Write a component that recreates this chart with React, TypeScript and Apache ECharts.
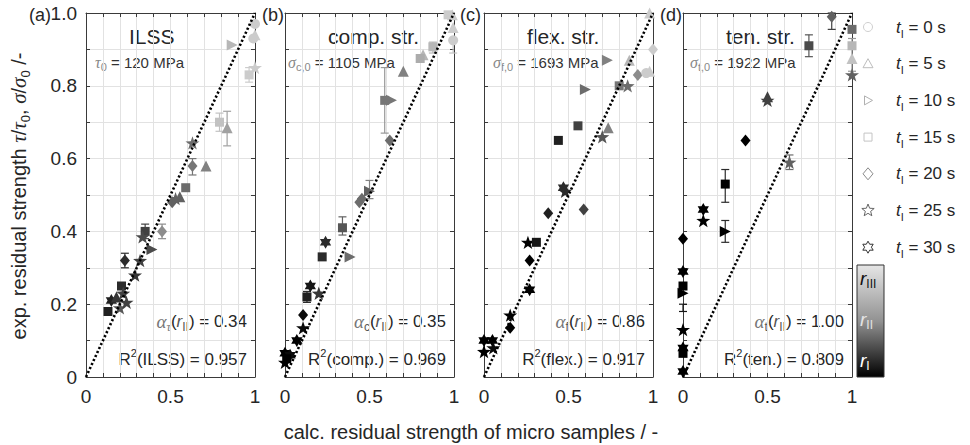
import React, { useEffect, useRef } from 'react';
import * as echarts from 'echarts';

// ---------- data ----------
const panelTitles = ['ILSS', 'comp. str.', 'flex. str.', 'ten. str.'];
const panelLabels = ['(a)', '(b)', '(c)', '(d)'];
const refSymbols = ['τ', 'σ', 'σ', 'σ'];
const refSubs = ['0', 'c,0', 'f,0', 't,0'];
const refValues = ['120 MPa', '1105 MPa', '1693 MPa', '1922 MPa'];
const alphaSubs = ['τ', 'c', 'f', 't'];
const alphaValues = ['0.34', '0.35', '0.86', '1.00'];
const r2Names = ['ILSS', 'comp.', 'flex.', 'ten.'];
const r2Values = ['0.957', '0.969', '0.917', '0.809'];
const legendTimes = ['0 s', '5 s', '10 s', '15 s', '20 s', '25 s', '30 s'];
const xTickValues = [0, 0.5, 1];
const xTickLabels = ['0', '0.5', '1'];
const yTickValues = [0, 0.2, 0.4, 0.6, 0.8, 1.0];
const yTickLabels = ['0', '0.2', '0.4', '0.6', '0.8', '1.0'];
const rLabels = ['III', 'II', 'I'];
const fitLine = [[0, 0], [1, 1]];

// points: [calc, exp, time index (0..6 -> 0..30 s), r level (0 = r_I black, 1 = r_III light)]
const ilssPoints = [
  [1.0, 0.97, 0, 0.95], [1.0, 0.94, 1, 0.95], [0.99, 0.93, 0, 0.95], [0.865, 0.912, 2, 0.85],
  [0.965, 0.83, 3, 0.95], [1.0, 0.85, 5, 0.95], [0.79, 0.70, 3, 0.9], [0.835, 0.685, 1, 0.75],
  [0.63, 0.643, 5, 0.5], [0.63, 0.58, 4, 0.55], [0.71, 0.58, 1, 0.6], [0.59, 0.52, 3, 0.5],
  [0.555, 0.495, 1, 0.45], [0.51, 0.48, 4, 0.45], [0.53, 0.49, 5, 0.45], [0.45, 0.40, 4, 0.65],
  [0.35, 0.40, 3, 0.3], [0.335, 0.385, 5, 0.35], [0.39, 0.35, 2, 0.35], [0.32, 0.32, 5, 0.3],
  [0.23, 0.32, 4, 0.2], [0.29, 0.28, 5, 0.25], [0.21, 0.25, 3, 0.2], [0.22, 0.23, 5, 0.3],
  [0.15, 0.21, 6, 0.15], [0.13, 0.18, 3, 0.15], [0.2, 0.19, 5, 0.4], [0.24, 0.205, 5, 0.3],
  [0.18, 0.22, 1, 0.25],
];
const compPoints = [
  [0.965, 0.995, 3, 0.95], [0.99, 0.995, 1, 0.95], [0.995, 0.96, 1, 0.95], [0.995, 0.925, 0, 0.95],
  [0.875, 0.907, 3, 0.85], [0.817, 0.885, 1, 0.85], [0.80, 0.875, 3, 0.8], [0.70, 0.84, 1, 0.6],
  [0.59, 0.76, 3, 0.55], [0.63, 0.76, 2, 0.55], [0.62, 0.65, 4, 0.5], [0.50, 0.51, 2, 0.45],
  [0.455, 0.49, 4, 0.5], [0.44, 0.48, 4, 0.5], [0.34, 0.41, 3, 0.4], [0.24, 0.37, 6, 0.2],
  [0.22, 0.33, 3, 0.2], [0.385, 0.33, 2, 0.5], [0.15, 0.25, 6, 0.1], [0.13, 0.22, 3, 0.15],
  [0.2, 0.23, 5, 0.25], [0.107, 0.17, 4, 0.05], [0.107, 0.135, 5, 0.05], [0.07, 0.10, 6, 0.0],
  [0.0, 0.065, 6, 0.0], [0.0, 0.04, 5, 0.0], [0.03, 0.06, 6, 0.05], [0.01, 0.05, 3, 0.0],
];
const flexPoints = [
  [0.98, 1.0, 1, 0.95], [1.0, 0.90, 4, 0.95], [0.73, 0.87, 2, 0.6], [0.86, 0.87, 1, 0.85],
  [0.91, 0.83, 4, 0.65], [0.98, 0.84, 1, 0.95], [0.96, 0.835, 0, 0.95], [0.80, 0.80, 3, 0.55],
  [0.85, 0.80, 5, 0.5], [0.60, 0.79, 2, 0.5], [0.556, 0.69, 3, 0.3], [0.44, 0.65, 3, 0.15],
  [0.735, 0.685, 1, 0.6], [0.70, 0.66, 5, 0.4], [0.48, 0.51, 5, 0.2], [0.47, 0.52, 6, 0.2],
  [0.38, 0.45, 4, 0.15], [0.59, 0.46, 4, 0.3], [0.26, 0.37, 5, 0.0], [0.31, 0.37, 3, 0.1],
  [0.27, 0.32, 4, 0.0], [0.27, 0.24, 6, 0.0], [0.155, 0.17, 5, 0.0], [0.155, 0.135, 4, 0.0],
  [0.0, 0.10, 6, 0.0], [0.05, 0.10, 6, 0.0], [0.0, 0.07, 5, 0.0], [0.055, 0.08, 5, 0.05],
];
const tenPoints = [
  [0.88, 0.99, 4, 0.45], [1.0, 0.955, 3, 0.5], [1.0, 0.91, 3, 0.85], [1.0, 0.875, 1, 0.9],
  [1.0, 0.83, 5, 0.45], [0.745, 0.91, 3, 0.35], [0.50, 0.77, 1, 0.3], [0.50, 0.76, 5, 0.3],
  [0.37, 0.65, 4, 0.0], [0.63, 0.59, 5, 0.45], [0.25, 0.53, 3, 0.0], [0.12, 0.46, 6, 0.0],
  [0.12, 0.43, 5, 0.0], [0.25, 0.40, 2, 0.0], [0.0, 0.38, 4, 0.0], [0.0, 0.29, 6, 0.0],
  [0.0, 0.25, 3, 0.0], [0.0, 0.23, 2, 0.0], [0.0, 0.13, 5, 0.0], [0.0, 0.08, 6, 0.0],
  [0.0, 0.065, 3, 0.0], [0.0, 0.015, 6, 0.0],
];

// error bars: [calc, low, high, r level]
const ilssErrors = [
  [0.965, 0.81, 0.85, 0.95], [0.79, 0.675, 0.725, 0.9], [0.835, 0.635, 0.73, 0.75],
  [0.63, 0.555, 0.60, 0.55], [0.45, 0.38, 0.42, 0.65], [0.23, 0.30, 0.34, 0.2], [0.35, 0.38, 0.42, 0.3],
];
const compErrors = [
  [0.59, 0.67, 0.85, 0.7], [0.875, 0.89, 0.92, 0.85], [0.995, 0.89, 0.93, 0.9],
  [0.50, 0.49, 0.54, 0.6], [0.34, 0.39, 0.44, 0.45], [0.13, 0.205, 0.235, 0.2],
];
const flexErrors: number[][] = [];
const tenErrors = [
  [0.88, 0.955, 1.0, 0.3], [0.745, 0.88, 0.94, 0.4], [0.63, 0.57, 0.61, 0.5],
  [0.25, 0.48, 0.57, 0.2], [0.25, 0.37, 0.43, 0.2], [0.0, 0.18, 0.20, 0.1], [1.0, 0.84, 0.93, 0.7],
];

const panelPoints = [ilssPoints, compPoints, flexPoints, tenPoints];
const panelErrors = [ilssErrors, compErrors, flexErrors, tenErrors];

// ---------- styling / layout ----------
const SANS = 'Arial, "Liberation Sans", Helvetica, sans-serif';
const SERIF = '"Times New Roman", "Liberation Serif", serif';
const TXT = '#262626';
const AX = '#3a3a3a';
const GRID_LEFTS = [86, 285, 484, 683];
const LABEL_RIGHTS = [51, 284, 481, 682];
const GT = 13;
const GW = 169;
const GH = 364;

const gray = (r: number) => {
  const g = Math.round(r * 215);
  return `rgb(${g},${g},${g})`;
};

function starPts(n: number, R: number, ri: number, cx: number, cy: number): number[][] {
  const pts: number[][] = [];
  for (let k = 0; k < 2 * n; k++) {
    const a = -Math.PI / 2 + (k * Math.PI) / n;
    const rad = k % 2 === 0 ? R : ri;
    pts.push([cx + rad * Math.cos(a), cy + rad * Math.sin(a)]);
  }
  return pts;
}
const toPath = (pts: number[][]) =>
  'path://' + pts.map((p, i) => (i === 0 ? 'M' : 'L') + p[0].toFixed(2) + ',' + p[1].toFixed(2)).join('') + 'Z';

const SYMBOLS = [
  'circle',
  'triangle',
  'path://M0,0L10,5L0,10Z',
  'rect',
  'diamond',
  toPath(starPts(5, 10, 4, 10, 10)),
  toPath(starPts(6, 10, 5.77, 10, 10)),
];
const SIZES: any[] = [10, 11, 11, 9, [10, 12], 14, 13];

const legendColors = ['#cfcfcf', '#bdbdbd', '#b0b0b0', '#c4c4c4', '#8a8a8a', '#666', '#333'];

function legendMarker(k: number, cx: number, cy: number): any {
  const style = { fill: 'none', stroke: legendColors[k], lineWidth: 1 };
  const s = 4.5;
  switch (k) {
    case 0:
      return { type: 'circle', shape: { cx, cy, r: s }, style };
    case 1:
      return { type: 'polygon', shape: { points: [[cx, cy - s - 0.5], [cx + s + 0.5, cy + s - 0.5], [cx - s - 0.5, cy + s - 0.5]] }, style };
    case 2:
      return { type: 'polygon', shape: { points: [[cx - s + 1, cy - s], [cx + s, cy], [cx - s + 1, cy + s]] }, style };
    case 3:
      return { type: 'rect', shape: { x: cx - 4, y: cy - 4, width: 8, height: 8 }, style };
    case 4:
      return { type: 'polygon', shape: { points: [[cx, cy - 6], [cx + 5, cy], [cx, cy + 6], [cx - 5, cy]] }, style };
    case 5:
      return { type: 'polygon', shape: { points: starPts(5, 6.5, 2.8, cx, cy) }, style };
    default:
      return { type: 'polygon', shape: { points: starPts(6, 6, 3.4, cx, cy) }, style };
  }
}

const pickLabel = (values: number[], labels: string[]) => (v: number) => {
  const idx = values.findIndex((t) => Math.abs(t - v) < 1e-6);
  return idx >= 0 ? labels[idx] : '';
};

function buildOption(): any {
  const grid = GRID_LEFTS.map((l) => ({ left: l, top: GT, width: GW, height: GH, containLabel: false }));
  const baseAxis = (i: number) => ({
    type: 'value',
    gridIndex: i,
    min: 0,
    max: 1,
    interval: 0.1,
    axisLine: { show: true, onZero: false, lineStyle: { color: AX, width: 1 } },
    axisTick: { show: true, inside: true, length: 4, lineStyle: { color: AX } },
  });
  const xAxis: any[] = [];
  const yAxis: any[] = [];
  GRID_LEFTS.forEach((_, i) => {
    xAxis.push({
      ...baseAxis(i),
      position: 'bottom',
      axisLabel: {
        show: true, margin: 10, fontSize: 19, color: TXT, fontFamily: SANS,
        showMinLabel: true, showMaxLabel: true, formatter: pickLabel(xTickValues, xTickLabels),
      },
      splitLine: { show: true, lineStyle: { color: '#e2e2e2', width: 1 } },
    });
    yAxis.push({
      ...baseAxis(i),
      position: 'left',
      axisLabel: {
        show: i === 0, margin: 9, fontSize: 19, color: TXT, fontFamily: SANS,
        showMinLabel: true, showMaxLabel: true, formatter: pickLabel(yTickValues, yTickLabels),
      },
      splitLine: { show: true, lineStyle: { color: '#e2e2e2', width: 1 } },
    });
  });
  GRID_LEFTS.forEach((_, i) => {
    xAxis.push({ ...baseAxis(i), position: 'top', axisLabel: { show: false }, splitLine: { show: false } });
    yAxis.push({ ...baseAxis(i), position: 'right', axisLabel: { show: false }, splitLine: { show: false } });
  });

  const series: any[] = [];
  GRID_LEFTS.forEach((_, i) => {
    series.push({
      type: 'custom',
      xAxisIndex: i,
      yAxisIndex: i,
      z: 2,
      encode: { x: 0, y: [1, 2] },
      data: panelErrors[i],
      renderItem: (params: any, api: any) => {
        const x = api.value(0);
        const pLo = api.coord([x, api.value(1)]);
        const pHi = api.coord([x, api.value(2)]);
        const c = gray(api.value(3));
        const w = 4;
        const st = { stroke: c, lineWidth: 1.2 };
        return {
          type: 'group',
          children: [
            { type: 'line', shape: { x1: pLo[0], y1: pLo[1], x2: pHi[0], y2: pHi[1] }, style: st },
            { type: 'line', shape: { x1: pLo[0] - w, y1: pLo[1], x2: pLo[0] + w, y2: pLo[1] }, style: st },
            { type: 'line', shape: { x1: pHi[0] - w, y1: pHi[1], x2: pHi[0] + w, y2: pHi[1] }, style: st },
          ],
        };
      },
    });
    series.push({
      type: 'scatter',
      xAxisIndex: i,
      yAxisIndex: i,
      z: 3,
      clip: false,
      data: panelPoints[i],
      symbol: (v: number[]) => SYMBOLS[v[2]],
      symbolSize: (v: number[]) => SIZES[v[2]],
      symbolKeepAspect: true,
      itemStyle: { color: (p: any) => gray(p.value[3]), opacity: 1 },
    });
    series.push({
      type: 'line',
      xAxisIndex: i,
      yAxisIndex: i,
      z: 4,
      data: fitLine,
      symbol: 'none',
      silent: true,
      lineStyle: { color: '#000', width: 2.6, type: [2.2, 2.2] },
    });
  });

  const graphic: any[] = [];
  const subStyle = { fontFamily: SANS, fontSize: 11, fill: '#777', verticalAlign: 'bottom', lineHeight: 11 };
  GRID_LEFTS.forEach((L, i) => {
    graphic.push({
      type: 'text', x: LABEL_RIGHTS[i], y: 15,
      style: { text: panelLabels[i], fontFamily: SANS, fontSize: 18, fill: TXT, align: 'right', verticalAlign: 'middle' },
    });
    graphic.push({
      type: 'text', x: L + 43, y: 36,
      style: { text: panelTitles[i], fontFamily: SANS, fontSize: 21, fill: TXT, align: 'left', verticalAlign: 'middle' },
    });
    const refOffsets = [9, 3, 9, 7];
    graphic.push({
      type: 'text', x: L + refOffsets[i], y: 62,
      style: {
        text: `{g|${refSymbols[i]}}{s|${refSubs[i]}}{n| = ${refValues[i]}}`,
        align: 'left', verticalAlign: 'middle',
        rich: {
          g: { fontFamily: SERIF, fontStyle: 'italic', fontSize: 16, fill: '#888', lineHeight: 20 },
          s: { ...subStyle, fill: '#888' },
          n: { fontFamily: SANS, fontSize: 15, fill: '#333', lineHeight: 20 },
        },
      },
    });
    const greekSub = alphaSubs[i] === 'τ';
    graphic.push({
      type: 'text', x: L + 161, y: 321,
      style: {
        text: `{g|α}{${greekSub ? 'sg' : 's'}|${alphaSubs[i]}}{n|(}{r|r}{s|II}{n|) = ${alphaValues[i]}}`,
        align: 'right', verticalAlign: 'middle',
        rich: {
          g: { fontFamily: SERIF, fontStyle: 'italic', fontSize: 19, fill: '#777', lineHeight: 24 },
          sg: { fontFamily: SERIF, fontStyle: 'italic', fontSize: 12, fill: '#777', verticalAlign: 'bottom', lineHeight: 12 },
          s: { fontFamily: SANS, fontSize: 12, fill: '#555', verticalAlign: 'bottom', lineHeight: 12 },
          r: { fontFamily: SANS, fontStyle: 'italic', fontSize: 17, fill: '#555', lineHeight: 24 },
          n: { fontFamily: SANS, fontSize: 17, fill: TXT, lineHeight: 24 },
        },
      },
    });
    graphic.push({
      type: 'text', x: L + 161, y: 359,
      style: {
        text: `{n|R}{p|2}{n|(${r2Names[i]}) = ${r2Values[i]}}`,
        align: 'right', verticalAlign: 'middle',
        rich: {
          n: { fontFamily: SANS, fontSize: 17, fill: TXT, lineHeight: 24 },
          p: { fontFamily: SANS, fontSize: 11, fill: TXT, verticalAlign: 'top', lineHeight: 12 },
        },
      },
    });
  });

  // y-axis title
  graphic.push({
    type: 'text', x: 19, y: 196, rotation: Math.PI / 2,
    style: {
      text: '{n|exp. residual strength }{g|τ}{n|/}{g|τ}{s|0}{n|, }{g|σ}{n|/}{g|σ}{s|0}{n| /-}',
      align: 'center', verticalAlign: 'middle',
      rich: {
        n: { fontFamily: SANS, fontSize: 20, fill: TXT, lineHeight: 26 },
        g: { fontFamily: SERIF, fontStyle: 'italic', fontSize: 21, fill: TXT, lineHeight: 26 },
        s: { fontFamily: SANS, fontSize: 13, fill: TXT, verticalAlign: 'bottom', lineHeight: 13 },
      },
    },
  });
  // x-axis title
  graphic.push({
    type: 'text', x: 471, y: 432,
    style: {
      text: 'calc. residual strength of micro samples / -',
      fontFamily: SANS, fontSize: 20, fill: TXT, align: 'center', verticalAlign: 'middle',
    },
  });

  // legend
  legendTimes.forEach((t, k) => {
    const cy = 27 + k * 36.7;
    graphic.push(legendMarker(k, 868, cy));
    graphic.push({
      type: 'text', x: 896, y: cy,
      style: {
        text: `{i|t}{s|I}{n| = ${t}}`,
        align: 'left', verticalAlign: 'middle',
        rich: {
          i: { fontFamily: SANS, fontStyle: 'italic', fontSize: 17, fill: TXT, lineHeight: 24 },
          s: { fontFamily: SANS, fontSize: 11, fill: TXT, verticalAlign: 'bottom', lineHeight: 11 },
          n: { fontFamily: SANS, fontSize: 17, fill: TXT, lineHeight: 24 },
        },
      },
    });
  });

  // colour bar
  graphic.push({
    type: 'rect',
    shape: { x: 857, y: 265, width: 27, height: 112 },
    style: {
      fill: new echarts.graphic.LinearGradient(0, 0, 0, 1, [
        { offset: 0, color: '#e6e6e6' },
        { offset: 0.5, color: '#929292' },
        { offset: 1, color: '#000' },
      ]),
      stroke: '#333', lineWidth: 1,
    },
  });
  const rY = [278, 319, 360];
  const rFill = ['#111', '#e4e4e4', '#fff'];
  rLabels.forEach((lab, k) => {
    graphic.push({
      type: 'text', x: 860, y: rY[k],
      style: {
        text: `{i|r}{s|${lab}}`,
        align: 'left', verticalAlign: 'middle',
        rich: {
          i: { fontFamily: SANS, fontStyle: 'italic', fontSize: 19, fill: rFill[k], lineHeight: 24 },
          s: { fontFamily: SANS, fontSize: 12, fill: rFill[k], verticalAlign: 'bottom', lineHeight: 12 },
        },
      },
    });
  });

  return { animation: false, backgroundColor: '#fff', grid, xAxis, yAxis, series, graphic };
}

export default function App() {
  const ref = useRef<HTMLDivElement>(null);
  useEffect(() => {
    if (!ref.current) return;
    const chart = echarts.init(ref.current, undefined, { renderer: 'svg' });
    chart.setOption(buildOption());
    return () => chart.dispose();
  }, []);
  return <div ref={ref} style={{ position: 'absolute', left: 0, top: 0, width: 970, height: 445 }} />;
}
